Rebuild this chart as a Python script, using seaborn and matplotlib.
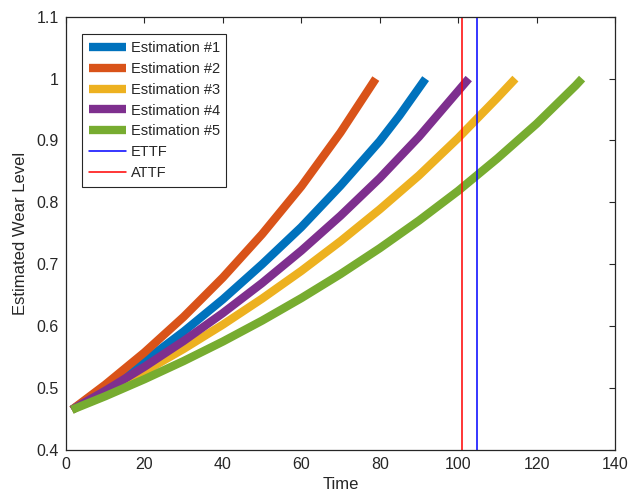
import numpy as np
import pandas as pd
import matplotlib
matplotlib.use('Agg')
import matplotlib.pyplot as plt
import seaborn as sns
from matplotlib.ticker import FuncFormatter
from matplotlib.lines import Line2D

# Wear estimation curves (time, wear level)
est1_t = [1.5, 10, 20, 30, 40, 50, 60, 70, 80, 85, 91.7]
est1_w = [0.465, 0.4995, 0.5435, 0.5913, 0.6434, 0.7000, 0.7600, 0.8270, 0.8990, 0.9400, 1.0]

est2_t = [1.5, 10, 20, 30, 40, 50, 60, 70, 79.0]
est2_w = [0.465, 0.5055, 0.5576, 0.6151, 0.6786, 0.7486, 0.8258, 0.9130, 1.0]

est3_t = [1.5, 10, 20, 30, 40, 50, 60, 70, 80, 90, 100, 110, 114.6]
est3_w = [0.465, 0.4924, 0.5267, 0.5633, 0.6025, 0.6445, 0.6893, 0.7373, 0.7887, 0.8435, 0.9040, 0.9690, 1.0]

est4_t = [1.5, 10, 20, 30, 40, 50, 60, 70, 80, 90, 100, 102.7]
est4_w = [0.465, 0.4957, 0.5344, 0.5762, 0.6212, 0.6697, 0.7220, 0.7784, 0.8392, 0.9060, 0.9800, 1.0]

est5_t = [1.5, 10, 20, 30, 40, 50, 60, 70, 80, 90, 100, 110, 120, 130, 131.6]
est5_w = [0.465, 0.4868, 0.5143, 0.5437, 0.5752, 0.6090, 0.6453, 0.6842, 0.7259, 0.7706, 0.8186, 0.8710, 0.9270, 0.9890, 1.0]

ettf = 104.8
attf = 101.0

names = ['Estimation #1', 'Estimation #2', 'Estimation #3', 'Estimation #4', 'Estimation #5']
colors = ['#0072BD', '#D95319', '#EDB120', '#7E2F8E', '#77AC30']

# long table for seaborn
frames = []
for name, t, w in zip(names, [est1_t, est2_t, est3_t, est4_t, est5_t],
                      [est1_w, est2_w, est3_w, est4_w, est5_w]):
    frames.append(pd.DataFrame({'Time': t, 'Wear': w, 'Series': name}))
data = pd.concat(frames, ignore_index=True)

sns.set_style('white')
plt.rcParams['font.family'] = ['Liberation Sans', 'DejaVu Sans']

fig = plt.figure(figsize=(6.3, 5.03), dpi=100)
ax = fig.add_axes([0.1048, 0.1054, 0.8714, 0.8614])

sns.lineplot(data=data, x='Time', y='Wear', hue='Series', palette=colors,
             linewidth=6.0, sort=False, legend=False, ax=ax,
             solid_capstyle='butt', solid_joinstyle='round')

ax.axvline(ettf, color='blue', linewidth=1.1)
ax.axvline(attf, color='red', linewidth=1.1)

ax.set_xlim(0, 140)
ax.set_ylim(0.4, 1.1)
ax.set_xticks(np.arange(0, 141, 20))
ax.set_yticks(np.arange(0.4, 1.11, 0.1))
ax.yaxis.set_major_formatter(FuncFormatter(lambda v, p: '%g' % round(v, 2)))

ax.set_xlabel('Time', fontsize=12, color='#262626', labelpad=4)
ax.set_ylabel('Estimated Wear Level', fontsize=12, color='#262626', labelpad=6)
ax.tick_params(direction='in', length=4, width=0.8, top=True, right=True,
               labelsize=11.5, colors='#262626', pad=5)
for s in ax.spines.values():
    s.set_color('#262626')
    s.set_linewidth(0.9)

handles = [Line2D([], [], color=c, linewidth=6.0, solid_capstyle='butt') for c in colors]
handles += [Line2D([], [], color='blue', linewidth=1.1), Line2D([], [], color='red', linewidth=1.1)]
labels = names + ['ETTF', 'ATTF']
leg = ax.legend(handles, labels, loc='upper left', bbox_to_anchor=(0.029, 0.959),
                fontsize=10.5, frameon=True, fancybox=False, framealpha=1,
                edgecolor='#262626', handlelength=2.6, labelspacing=0.47,
                borderpad=0.45, handletextpad=0.3, borderaxespad=0)
leg.get_frame().set_linewidth(0.8)

fig.savefig('out.png', dpi=100)
